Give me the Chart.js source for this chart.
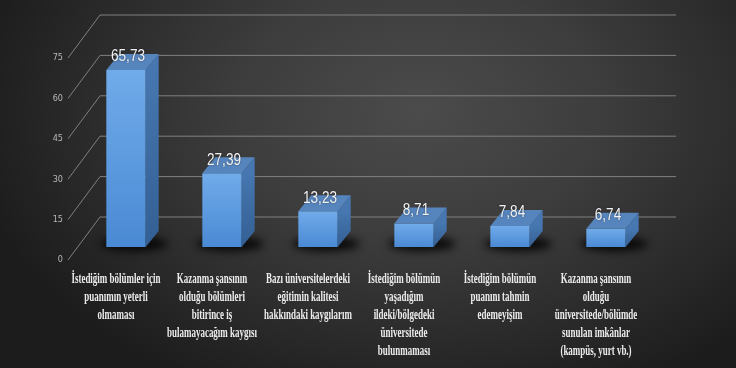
<!DOCTYPE html>
<html>
<head>
<meta charset="utf-8">
<script src="https://cdn.jsdelivr.net/npm/chart.js@4"></script>
<style>
  html, body { margin: 0; padding: 0; }
  #wrap {
    width: 736px; height: 368px;
    background: radial-gradient(ellipse 62% 85% at 57% 30%, #4b4b4b 0%, #3d3d3d 40%, #2a2a2a 75%, #1c1c1c 100%);
  }
</style>
</head>
<body>
<div id="wrap"><canvas id="chart" width="736" height="368"></canvas></div>
<script>
const categories = [
    ["İstediğim bölümler için", "puanımın yeterli", "olmaması"],
    ["Kazanma şansının", "olduğu bölümleri", "bitirince iş", "bulamayacağım kaygısı"],
    ["Bazı üniversitelerdeki", "eğitimin kalitesi", "hakkındaki kaygılarım"],
    ["İstediğim bölümün", "yaşadığım", "ildeki/bölgedeki", "üniversitede", "bulunmaması"],
    ["İstediğim bölümün", "puanını tahmin", "edemeyişim"],
    ["Kazanma şansının", "olduğu", "üniversitede/bölümde", "sunulan imkânlar", "(kampüs, yurt vb.)"]
];
const values = [65.73, 27.39, 13.23, 8.71, 7.84, 6.74];
const yTicks = [0, 15, 30, 45, 60, 75];

// depth of the fake 3d look
const DX = 13, DY = -16;

// back walls, diagonals and bar shadows
const gridPlugin = {
    id: 'grid3d',
    beforeDatasetsDraw(chart) {
        const ctx = chart.ctx;
        const area = chart.chartArea;
        const y = chart.scales.y;
        ctx.save();
        ctx.strokeStyle = '#808080';
        ctx.lineWidth = 1;
        yTicks.forEach(v => {
            const py = y.getPixelForValue(v);
            ctx.beginPath();
            ctx.moveTo(area.left - 10, py + 13);
            ctx.lineTo(area.left + 22, py - 30);
            ctx.lineTo(area.right + 22, py - 30);
            ctx.stroke();
        });
        // shadows
        const meta = chart.getDatasetMeta(0);
        ctx.fillStyle = 'rgba(0,0,0,0.85)';
        ctx.filter = 'blur(4px)';
        meta.data.forEach(bar => {
            ctx.beginPath();
            ctx.ellipse(bar.x + 8, bar.base - 3, bar.width / 2 + 14, 7, 0, 0, Math.PI * 2);
            ctx.fill();
        });
        ctx.restore();
    },
    afterDatasetsDraw(chart) {
        const ctx = chart.ctx;
        const meta = chart.getDatasetMeta(0);
        ctx.save();
        meta.data.forEach((bar, i) => {
            const l = bar.x - bar.width / 2, r = bar.x + bar.width / 2;
            const top = bar.y, base = bar.base;
            // side face
            const gs = ctx.createLinearGradient(0, top, 0, base);
            gs.addColorStop(0, '#4677b0');
            gs.addColorStop(1, '#335f93');
            ctx.fillStyle = gs;
            ctx.beginPath();
            ctx.moveTo(r, top);
            ctx.lineTo(r + DX, top + DY);
            ctx.lineTo(r + DX, base + DY);
            ctx.lineTo(r, base);
            ctx.closePath();
            ctx.fill();
            // top face
            ctx.fillStyle = '#5685bd';
            ctx.beginPath();
            ctx.moveTo(l, top);
            ctx.lineTo(r, top);
            ctx.lineTo(r + DX, top + DY);
            ctx.lineTo(l + DX, top + DY);
            ctx.closePath();
            ctx.fill();
            // value label
            ctx.save();
            ctx.translate(bar.x + 2, top - 13);
            ctx.scale(0.85, 1);
            ctx.font = '16px "Liberation Sans", Arial, sans-serif';
            ctx.fillStyle = '#f2f2f2';
            ctx.textAlign = 'center';
            ctx.textBaseline = 'middle';
            ctx.shadowColor = 'rgba(0,0,0,0.5)';
            ctx.shadowBlur = 2;
            ctx.fillText(values[i].toFixed(2).replace('.', ','), 0, 0);
            ctx.restore();
        });
        // category labels, narrow serif
        meta.data.forEach((bar, i) => {
            categories[i].forEach((line, k) => {
                ctx.save();
                ctx.translate(bar.x - 10, 279 + k * 18);
                ctx.scale(0.64, 1);
                ctx.font = 'bold 14px "Liberation Serif", "Times New Roman", serif';
                ctx.fillStyle = '#ececec';
                ctx.textAlign = 'center';
                ctx.textBaseline = 'middle';
                ctx.fillText(line, 0, 0);
                ctx.restore();
            });
        });
        ctx.restore();
    }
};

const ctx = document.getElementById('chart').getContext('2d');
new Chart(ctx, {
    type: 'bar',
    data: {
        labels: categories,
        datasets: [{
            data: values,
            backgroundColor: c => {
                const chart = c.chart;
                if (!chart.chartArea) return '#5b9bd5';
                const y = chart.scales.y;
                const g = chart.ctx.createLinearGradient(0, y.getPixelForValue(c.raw), 0, y.getPixelForValue(0));
                g.addColorStop(0, '#70abea');
                g.addColorStop(1, '#4a8ad4');
                return g;
            },
            borderWidth: 0,
            barPercentage: 0.41,
            categoryPercentage: 1
        }]
    },
    options: {
        responsive: false,
        devicePixelRatio: 1,
        animation: false,
        layout: { padding: { left: 0, right: 82, top: 45, bottom: 121 } },
        plugins: { legend: { display: false }, tooltip: { enabled: false } },
        scales: {
            x: {
                afterFit: s => { s.height = 0; },
                ticks: { display: false },
                grid: { display: false },
                border: { display: false }
            },
            y: {
                min: 0,
                max: 75,
                afterFit: s => { s.width = 78; },
                afterBuildTicks: s => { s.ticks = yTicks.map(v => ({ value: v })); },
                ticks: {
                    color: '#b8b8b8',
                    font: { family: '"DejaVu Sans Condensed", sans-serif', size: 9 },
                    padding: 15,
                    labelOffset: 13
                },
                grid: { display: false, drawTicks: false },
                border: { display: false }
            }
        }
    },
    plugins: [gridPlugin]
});
</script>
</body>
</html>
